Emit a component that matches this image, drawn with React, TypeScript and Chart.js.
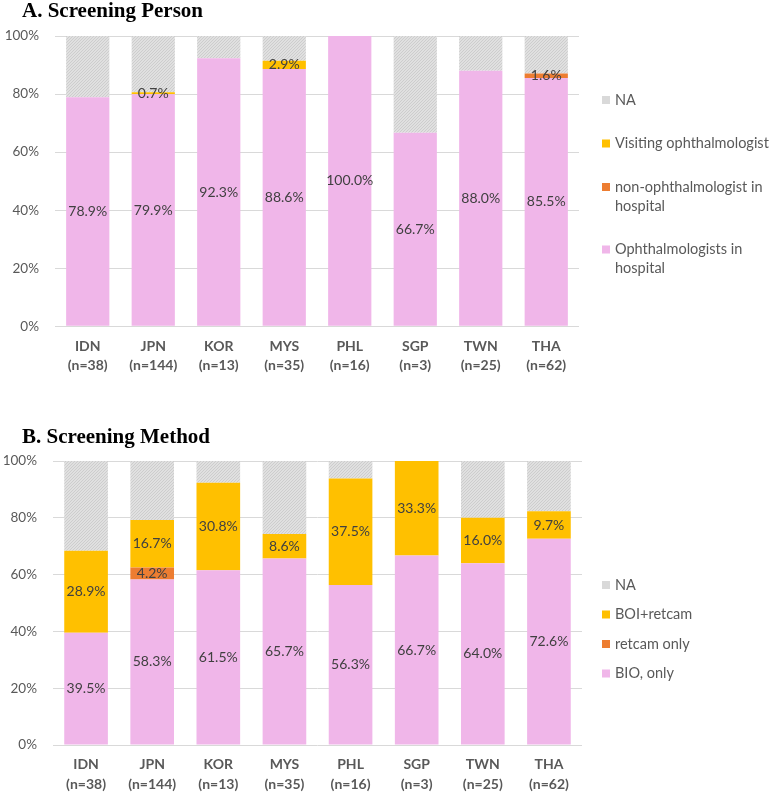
import React, { useEffect, useRef } from "react";
import { Chart, registerables } from "chart.js";

Chart.register(...registerables);

// ---------- data ----------
const categories = ["IDN", "JPN", "KOR", "MYS", "PHL", "SGP", "TWN", "THA"];
const sampleSizes = ["(n=38)", "(n=144)", "(n=13)", "(n=35)", "(n=16)", "(n=3)", "(n=25)", "(n=62)"];
const yTickValues = [0, 20, 40, 60, 80, 100];

// A. Screening Person
const personOphthInHospital = [78.9, 79.9, 92.3, 88.6, 100.0, 66.7, 88.0, 85.5];
const personNonOphthInHospital = [0, 0, 0, 0, 0, 0, 0, 1.6];
const personVisiting = [0, 0.7, 0, 2.9, 0, 0, 0, 0];
const personNA = [21.1, 19.4, 7.7, 8.5, 0, 33.3, 12.0, 12.9];

// B. Screening Method
const methodBioOnly = [39.5, 58.3, 61.5, 65.7, 56.3, 66.7, 64.0, 72.6];
const methodRetcamOnly = [0, 4.2, 0, 0, 0, 0, 0, 0];
const methodBoiRetcam = [28.9, 16.7, 30.8, 8.6, 37.5, 33.3, 16.0, 9.7];
const methodNA = [31.6, 20.8, 7.7, 25.7, 6.2, 0, 20.0, 17.7];

// ---------- styles ----------
const PINK = "#f0b6e9";
const ORANGE = "#ed7d31";
const YELLOW = "#ffc000";
const GRAY = "#d9d9d9";
const TEXT = "#595959";
const LABEL = "#404040";
const FONT = "Lato, 'Open Sans', sans-serif";

function naPattern(): CanvasPattern | string {
  const c = document.createElement("canvas");
  c.width = 3;
  c.height = 3;
  const g = c.getContext("2d");
  if (!g) return GRAY;
  g.fillStyle = "#e0e0e0";
  g.fillRect(0, 0, 3, 3);
  g.fillStyle = "#cdcdcd";
  g.fillRect(0, 0, 1, 1);
  g.fillRect(1, 2, 1, 1);
  g.fillRect(2, 1, 1, 1);
  return g.createPattern(c, "repeat") || GRAY;
}

const titleIndentPlugin = {
  id: "titleIndent",
  afterLayout(chart: any) {
    const o = chart.options.plugins.titleIndent;
    if (chart.titleBlock && o) {
      chart.titleBlock.left += o.indent;
    }
  },
};

const barLabelsPlugin = {
  id: "barLabels",
  afterDatasetsDraw(chart: any) {
    const ctx = chart.ctx;
    ctx.save();
    ctx.font = `14px ${FONT}`;
    ctx.fillStyle = LABEL;
    ctx.textAlign = "center";
    ctx.textBaseline = "middle";
    chart.data.datasets.forEach((ds: any, i: number) => {
      if (ds.hideLabels) return;
      const meta = chart.getDatasetMeta(i);
      meta.data.forEach((bar: any, j: number) => {
        const v = ds.data[j];
        if (!v) return;
        const p = bar.getProps(["x", "y", "base"], true);
        ctx.fillText(v.toFixed(1) + "%", p.x, (p.y + p.base) / 2);
      });
    });
    ctx.restore();
  },
};

const sideLegendPlugin = {
  id: "sideLegend",
  afterDraw(chart: any) {
    const o = chart.options.plugins.sideLegend;
    if (!o) return;
    const ctx = chart.ctx;
    ctx.save();
    ctx.font = `14.5px ${FONT}`;
    ctx.textBaseline = "middle";
    ctx.textAlign = "left";
    const x = o.x;
    let y = chart.chartArea.top + o.offsetTop;
    const items = chart.data.datasets.slice().reverse();
    items.forEach((ds: any) => {
      const words = String(ds.label).split(" ");
      const lines: string[] = [];
      let cur = "";
      words.forEach((w) => {
        const t = cur ? cur + " " + w : w;
        if (ctx.measureText(t).width > o.maxWidth && cur) {
          lines.push(cur);
          cur = w;
        } else cur = t;
      });
      if (cur) lines.push(cur);
      ctx.fillStyle = ds.legendColor;
      ctx.fillRect(x, y - 4, 8, 8);
      ctx.fillStyle = TEXT;
      lines.forEach((ln, k) => ctx.fillText(ln, x + 13, y + k * o.lineHeight));
      y += o.spacing + (lines.length - 1) * o.lineHeight;
    });
    ctx.restore();
  },
};

type PanelProps = {
  title: string;
  top: number;
  height: number;
  datasets: any[];
  pad: { top: number; bottom: number; right: number };
  titlePadBottom: number;
  yAxisWidth: number;
  yTickPadding: number;
  legendOffsetTop: number;
  legendSpacing: number;
};

function Panel(props: PanelProps) {
  const ref = useRef<HTMLCanvasElement | null>(null);
  useEffect(() => {
    if (!ref.current) return;
    const labels = categories.map((c, i) => [c, sampleSizes[i]]);
    const chart = new Chart(ref.current, {
      type: "bar",
      data: { labels, datasets: props.datasets },
      plugins: [titleIndentPlugin, barLabelsPlugin, sideLegendPlugin],
      options: {
        animation: false,
        responsive: false,
        layout: { padding: { left: 0, top: props.pad.top, bottom: props.pad.bottom, right: props.pad.right } },
        datasets: { bar: { categoryPercentage: 1, barPercentage: 0.66 } },
        plugins: {
          legend: { display: false },
          tooltip: { enabled: false },
          title: {
            display: true,
            text: props.title,
            align: "start",
            color: "#000",
            font: { family: "'Liberation Serif', 'Times New Roman', serif", size: 21, weight: "bold", lineHeight: 1.1 },
            padding: { top: 0, bottom: props.titlePadBottom },
          },
          titleIndent: { indent: 22 },
          sideLegend: {
            x: 602,
            offsetTop: props.legendOffsetTop,
            spacing: props.legendSpacing,
            lineHeight: 19,
            maxWidth: 165,
          },
        } as any,
        scales: {
          x: {
            stacked: true,
            grid: { display: false, drawTicks: false },
            border: { display: false },
            ticks: {
              color: TEXT,
              padding: 10,
              font: { family: FONT, size: 14, weight: "bold", lineHeight: 1.4 },
              maxRotation: 0,
              autoSkip: false,
            },
          },
          y: {
            stacked: true,
            min: 0,
            max: 100,
            afterBuildTicks: (axis: any) => {
              axis.ticks = yTickValues.map((v) => ({ value: v }));
            },
            afterFit: (axis: any) => {
              axis.width = props.yAxisWidth;
            },
            grid: { color: GRAY, lineWidth: 1, drawTicks: false },
            border: { display: false },
            ticks: {
              color: TEXT,
              padding: props.yTickPadding,
              font: { family: FONT, size: 13.5 },
              callback: (v: any) => v + "%",
            },
          },
        },
      } as any,
    });
    return () => chart.destroy();
  }, []);
  return (
    <canvas
      ref={ref}
      width={773}
      height={props.height}
      style={{ position: "absolute", left: 0, top: props.top, width: 773, height: props.height }}
    />
  );
}

export default function App() {
  const na = typeof document !== "undefined" ? naPattern() : GRAY;
  const dsA = [
    { label: "Ophthalmologists in hospital", data: personOphthInHospital, backgroundColor: PINK, legendColor: PINK },
    { label: "non-ophthalmologist in hospital", data: personNonOphthInHospital, backgroundColor: ORANGE, legendColor: ORANGE },
    { label: "Visiting ophthalmologist", data: personVisiting, backgroundColor: YELLOW, legendColor: YELLOW },
    { label: "NA", data: personNA, backgroundColor: na, legendColor: GRAY, hideLabels: true },
  ];
  const dsB = [
    { label: "BIO, only", data: methodBioOnly, backgroundColor: PINK, legendColor: PINK },
    { label: "retcam only", data: methodRetcamOnly, backgroundColor: ORANGE, legendColor: ORANGE },
    { label: "BOI+retcam", data: methodBoiRetcam, backgroundColor: YELLOW, legendColor: YELLOW },
    { label: "NA", data: methodNA, backgroundColor: na, legendColor: GRAY, hideLabels: true },
  ];
  return (
    <div style={{ position: "absolute", left: 0, top: 0, width: 773, height: 806, background: "#fff" }}>
      <Panel
        title="A. Screening Person"
        top={0}
        height={392}
        datasets={dsA}
        pad={{ top: 0.5, bottom: 6.5, right: 194 }}
        titlePadBottom={12.4}
        yAxisWidth={55}
        yTickPadding={16}
        legendOffsetTop={64}
        legendSpacing={43.5}
      />
      <Panel
        title="B. Screening Method"
        top={415}
        height={391}
        datasets={dsB}
        pad={{ top: 11.2, bottom: 1.8, right: 191 }}
        titlePadBottom={11.7}
        yAxisWidth={53}
        yTickPadding={16}
        legendOffsetTop={124}
        legendSpacing={29.5}
      />
    </div>
  );
}
